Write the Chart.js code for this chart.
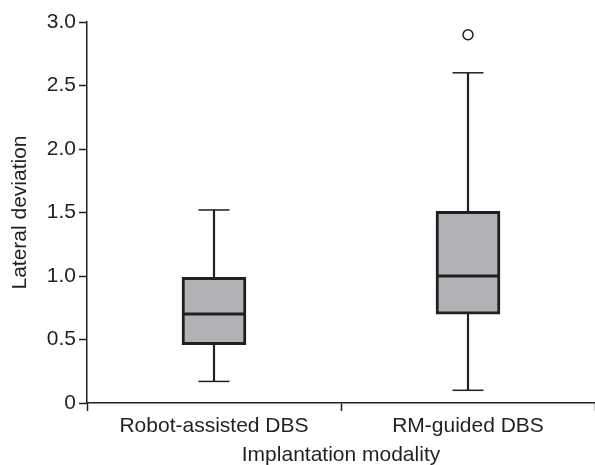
<!DOCTYPE html>
<html>
<head>
<meta charset="utf-8">
<script src="https://cdn.jsdelivr.net/npm/chart.js@4.4.1/dist/chart.umd.min.js"></script>
<style>
  html, body { margin: 0; padding: 0; background: #fff; }
  #wrap { width: 595px; height: 465px; }
</style>
</head>
<body>
<div id="wrap"><canvas id="myBox"></canvas></div>
<script>
  // box plot values
  const groups = ['Robot-assisted DBS', 'RM-guided DBS'];
  const whiskerLow = [0.17, 0.10];
  const q1 = [0.46, 0.70];
  const median = [0.70, 1.00];
  const q3 = [0.99, 1.51];
  const whiskerHigh = [1.52, 2.60];
  const outliers = [null, 2.90];
  const yTicks = [0, 0.5, 1.0, 1.5, 2.0, 2.5, 3.0];

  const ink = '#231f20';
  const font = { family: "'Liberation Sans', Arial, Helvetica, sans-serif", size: 21 };

  const ctx = document.getElementById('myBox');

  new Chart(ctx, {
    data: {
      labels: groups,
      datasets: [
        {
          type: 'line',
          data: median,
          showLine: false,
          pointStyle: 'line',
          pointRadius: 31,
          pointBorderWidth: 3,
          pointBorderColor: ink,
          order: 0,
        },
        {
          type: 'line',
          data: whiskerLow,
          showLine: false,
          pointStyle: 'line',
          pointRadius: 15.5,
          pointBorderWidth: 1.5,
          pointBorderColor: ink,
          order: 1,
        },
        {
          type: 'line',
          data: whiskerHigh,
          showLine: false,
          pointStyle: 'line',
          pointRadius: 15.5,
          pointBorderWidth: 1.5,
          pointBorderColor: ink,
          order: 1,
        },
        {
          type: 'line',
          data: outliers,
          showLine: false,
          pointStyle: 'circle',
          pointRadius: 5,
          pointBorderWidth: 1.5,
          pointBorderColor: ink,
          pointBackgroundColor: '#fff',
          order: 1,
        },
        {
          type: 'bar',
          data: groups.map((g, i) => [q1[i], q3[i]]),
          backgroundColor: '#b1b2b5',
          borderColor: ink,
          borderWidth: 3,
          borderSkipped: false,
          barThickness: 64,
          grouped: false,
          order: 2,
        },
        {
          type: 'bar',
          data: groups.map((g, i) => [whiskerLow[i], whiskerHigh[i]]),
          backgroundColor: ink,
          borderWidth: 0,
          barThickness: 1.5,
          grouped: false,
          order: 3,
        },
      ]
    },
    options: {
      responsive: true,
      maintainAspectRatio: false,
      animation: false,
      layout: { autoPadding: false, padding: { top: 22, right: 0, left: 0, bottom: 0 } },
      plugins: {
        legend: { display: false },
        tooltip: { enabled: false },
      },
      scales: {
        x: {
          type: 'category',
          offset: true,
          afterFit: (axis) => { axis.height = 62; },
          grid: {
            offset: true,
            drawOnChartArea: false,
            drawTicks: true,
            tickLength: 8,
            tickWidth: 1.5,
            color: ink,
          },
          border: { display: true, color: ink, width: 1.5 },
          ticks: { color: ink, font: font, padding: 3, maxRotation: 0 },
          title: {
            display: true,
            text: 'Implantation modality',
            color: ink,
            font: font,
            padding: { top: 0, bottom: -3 },
          },
        },
        y: {
          min: 0,
          max: 3,
          afterFit: (axis) => { axis.width = 87; },
          afterBuildTicks: (axis) => { axis.ticks = yTicks.map(v => ({ value: v })); },
          grid: {
            drawOnChartArea: false,
            drawTicks: true,
            tickLength: 8,
            tickWidth: 1.5,
            color: ink,
          },
          border: { display: true, color: ink, width: 1.5 },
          ticks: {
            color: ink,
            font: font,
            padding: 3,
            callback: (v) => v === 0 ? '0' : v.toFixed(1),
          },
          title: {
            display: true,
            text: 'Lateral deviation',
            color: ink,
            font: font,
            padding: { top: 8, bottom: 0 },
          },
        }
      }
    }
  });
</script>
</body>
</html>
